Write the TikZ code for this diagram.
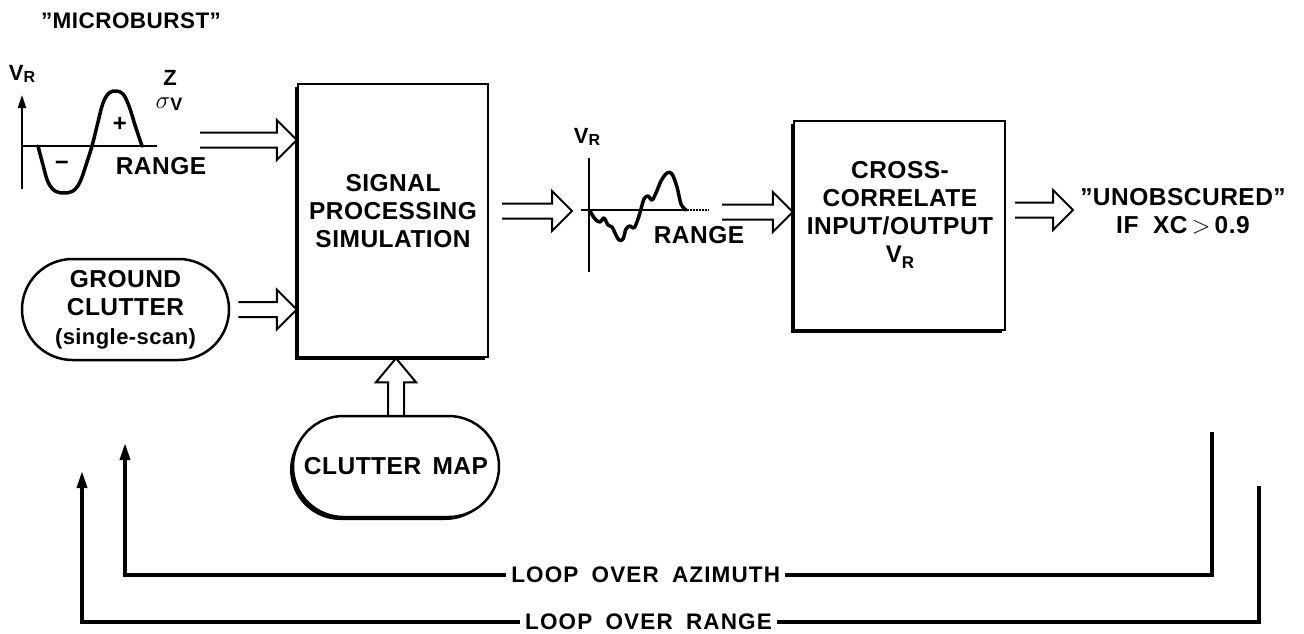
\documentclass[tikz,border=0pt]{standalone}
\usepackage{fontspec}
\setmainfont{Liberation Sans}[LetterSpace=2]
\newfontfamily\loopfont{Liberation Sans}[LetterSpace=5,WordSpace=1.8]
\usetikzlibrary{calc,shapes.misc,shadows,arrows.meta}
\newcommand{\myVR}[2]{{\fontsize{#1}{#1}\selectfont V}\raisebox{-0.5ex}{\fontsize{#2}{#2}\selectfont R}}
\begin{document}
\begin{tikzpicture}[x=1pt,y=-1pt,line join=miter,
  txt/.style={font=\fontsize{24.5}{28}\selectfont\bfseries,align=center,inner sep=0pt},
  lab/.style={font=\bfseries,inner sep=0pt},
  box/.style={draw,line width=2.5pt,fill=white,
    drop shadow={shadow xshift=-3pt,shadow yshift=-3pt,opacity=1,fill=black}},
  pill/.style={draw,rounded rectangle,line width=2.5pt,fill=white,
    minimum width=207pt,minimum height=101pt,txt},
  axis/.style={line width=2pt},
  curve/.style={line width=3.5pt,line join=round,line cap=round},
  harrow/.style={line width=2pt,to path={let \p1=(\tikztostart), \p2=(\tikztotarget) in
    (\x1,{\y1+7.5pt}) -- ({\x2-20pt},{\y1+7.5pt}) -- ({\x2-20pt},{\y1+20pt}) -- (\x2,\y1)
    -- ({\x2-20pt},{\y1-20pt}) -- ({\x2-20pt},{\y1-7.5pt}) -- (\x1,{\y1-7.5pt})}},
  varrow/.style={line width=2pt,to path={let \p1=(\tikztostart), \p2=(\tikztotarget) in
    ({\x1-8pt},\y1) -- ({\x1-8pt},{\y2-24pt}) -- ({\x1-20pt},{\y2-24pt}) -- (\x1,\y2)
    -- ({\x1+20pt},{\y2-24pt}) -- ({\x1+8pt},{\y2-24pt}) -- ({\x1+8pt},\y1)}},
  loopline/.style={line width=3.5pt,-{Triangle[length=17pt,width=10pt]}},
  looplab/.style={fill=white,inner xsep=5pt,inner ysep=2pt,font=\loopfont\fontsize{22.5}{22.5}\selectfont\bfseries}
]
\useasboundingbox (0,0) rectangle (1304,634);

% title
\node[lab,font=\fontsize{22.5}{22.5}\selectfont\bfseries] (title) at (131,21) {''MICROBURST''};

% microburst graph
\draw[axis,-{Triangle[length=13pt,width=8pt]}] (22,189) -- (22,95);
\draw[axis] (22,146) -- (157,146);
\draw[curve] plot[smooth,tension=0.6] coordinates {(38,146) (43,165) (48,182) (55,191) (64,193) (73,191) (80,182) (86,165) (92,146) (98,122) (103,103) (109,93) (116,91) (123,94) (129,106) (135,125) (142,146)};
\node[lab] (vr1) at (22,74) {\myVR{22}{16}};
\node[lab,font=\fontsize{24}{24}\selectfont\bfseries] (minus) at (62,166) {−};
\node[lab,font=\fontsize{24}{24}\selectfont\bfseries] (plus) at (120,124) {+};
\node[lab,font=\fontsize{22}{22}\selectfont\bfseries] (z) at (170,78) {Z};
\node[lab] (sig) at (169,104) {{\fontsize{30}{30}\selectfont$\sigma$}\raisebox{-0.5ex}{\fontsize{18}{18}\selectfont V}};
\node[txt] (range1) at (161,166) {RANGE};
\coordinate (mbout) at (200,140);

% signal processing box
\node[box,minimum width=190pt,minimum height=273pt] (sps) at (393,220.5) {};
\node[txt] (spst) at (393,211) {SIGNAL\\PROCESSING\\SIMULATION};

% ground clutter
\node[pill] (gc) at (125.5,309.5) {GROUND\\CLUTTER\\[1pt]{\fontsize{22}{22}\selectfont (single-scan)}};

% clutter map
\node[pill,minimum width=206pt,
  drop shadow={shadow xshift=-3pt,shadow yshift=-3pt,opacity=1,fill=black}] (cm) at (396,466.5) {CLUTTER\ \,MAP};

% middle graph
\draw[axis] (589,158) -- (589,272);
\draw[axis] (581,210) -- (687,210);
\draw[axis,densely dotted] (687,210) -- (709,210);
\draw[curve] plot[smooth,tension=0.55] coordinates {(590,211) (595,219) (600,222) (604,218) (608,225) (612,227) (615,233) (619,240) (623,239) (626,229) (630,226) (634,228) (638,219) (641,209) (644,199) (648,196) (652,200) (656,193) (661,181) (667,173) (672,174) (677,187) (681,204) (686,210)};
\node[lab] (vr2) at (587,137) {\myVR{22}{16}};
\node[txt] (range2) at (699,235) {RANGE};
\coordinate (spsout) at (502,211);
\coordinate (g2in) at (572,211);
\coordinate (g2out) at (722,212);

% cross-correlate box
\node[box,minimum width=211pt,minimum height=209pt] (xc) at (899.5,225.5) {};
\node[txt] (xct) at (900,215) {CROSS-\\CORRELATE\\INPUT/OUTPUT\\\myVR{24}{17}};

% output text
\node[txt] (unob) at (1183,211) {''UNOBSCURED''\\IF\ \ XC\,{\mdseries$>$}\,0.9};
\coordinate (xcout) at (1015,210);
\coordinate (unobin) at (1073,210);

% hollow arrows
\draw[harrow] (mbout) to (sps.west |- mbout);
\draw[harrow] ([xshift=8pt]gc.east) to (sps.west |- gc.east);
\draw[harrow] (spsout) to (g2in);
\draw[harrow] (g2out) to (xc.west |- g2out);
\draw[harrow] (xcout) to (unobin);
\draw[varrow] (cm.north) to (sps.south);

% loops
\coordinate (azR) at (1212,432);
\coordinate (azC) at (1212,575);
\coordinate (azL) at (125,575);
\coordinate (azT) at (125,443);
\draw[loopline] (azR) -- (azC) -- node[looplab,pos=0.521] (azlab) {LOOP OVER AZIMUTH} (azL) -- (azT);
\coordinate (rgR) at (1259,486);
\coordinate (rgC) at (1259,622);
\coordinate (rgL) at (82,622);
\coordinate (rgT) at (82,471);
\draw[loopline] (rgR) -- (rgC) -- node[looplab,pos=0.5187] (rglab) {LOOP OVER RANGE} (rgL) -- (rgT);
\end{tikzpicture}
\end{document}
